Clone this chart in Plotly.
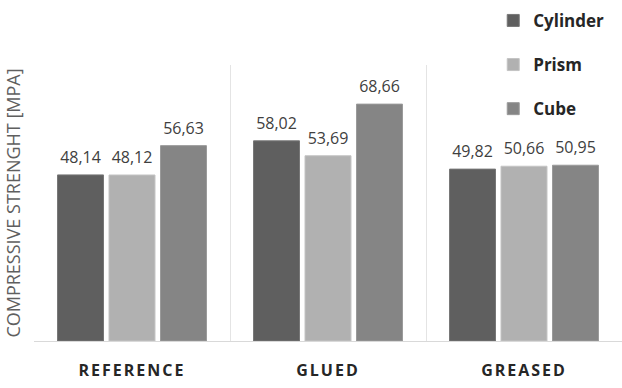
import plotly.graph_objects as go

# Compressive strength by specimen end treatment and shape
categories = ["REFERENCE", "GLUED", "GREASED"]
series_names = ["Cylinder", "Prism", "Cube"]
cylinder = [48.14, 58.02, 49.82]
prism = [48.12, 53.69, 50.66]
cube = [56.63, 68.66, 50.95]

values = [cylinder, prism, cube]
colors = ["#5f5f5f", "#b1b1b1", "#858585"]
edge_colors = ["#777777", "#c4c4c4", "#9a9a9a"]

# Category labels drawn with wide letter spacing
tick_text = ["<span style='letter-spacing:2px'>%s</span>" % c for c in categories]

# Value label: number on the first line, tiny spacer line lifts it off the bar
label_template = ("<span style='font-size:16px'>%{y:.2f}</span>"
                  "<br><span style='font-size:4px'> </span>")

fig = go.Figure()
for i, (name, vals) in enumerate(zip(series_names, values)):
    fig.add_trace(go.Bar(
        name=name,
        x=categories,
        y=vals,
        legendgroup=name,
        marker=dict(color=colors[i], line=dict(color=edge_colors[i], width=1)),
        texttemplate=label_template,
        textposition="outside",
        constraintext="none",
        cliponaxis=False,
        textfont=dict(family="Open Sans", size=6, color="#404040"),
    ))

fig.update_layout(
    width=622,
    height=388,
    margin=dict(l=34, r=0, t=65, b=47),
    paper_bgcolor="white",
    plot_bgcolor="white",
    separators=",.",
    barmode="group",
    bargap=0.212,
    bargroupgap=0.107,
    showlegend=True,
    legend=dict(
        x=0.781, y=1.225, xanchor="left", yanchor="top",
        font=dict(family="Open Sans", size=17, color="#262626", weight="bold"),
        tracegroupgap=19,
        bgcolor="rgba(0,0,0,0)",
    ),
    xaxis=dict(
        tickson="boundaries",
        showgrid=True,
        gridcolor="#e4e4e4",
        gridwidth=1,
        showline=True,
        linecolor="#d9d9d9",
        linewidth=1,
        ticks="",
        tickmode="array",
        tickvals=categories,
        ticktext=tick_text,
        ticklabelstandoff=15,
        tickfont=dict(family="Open Sans", size=16, color="#262626", weight="bold"),
    ),
    yaxis=dict(
        range=[0, 80],
        showgrid=False,
        showticklabels=False,
        zeroline=False,
        title=dict(text="COMPRESSIVE STRENGHT [MPA]",
                   font=dict(family="Open Sans", size=18, color="#5f5f5f"),
                   standoff=7),
    ),
)

fig.write_html("out.html")
